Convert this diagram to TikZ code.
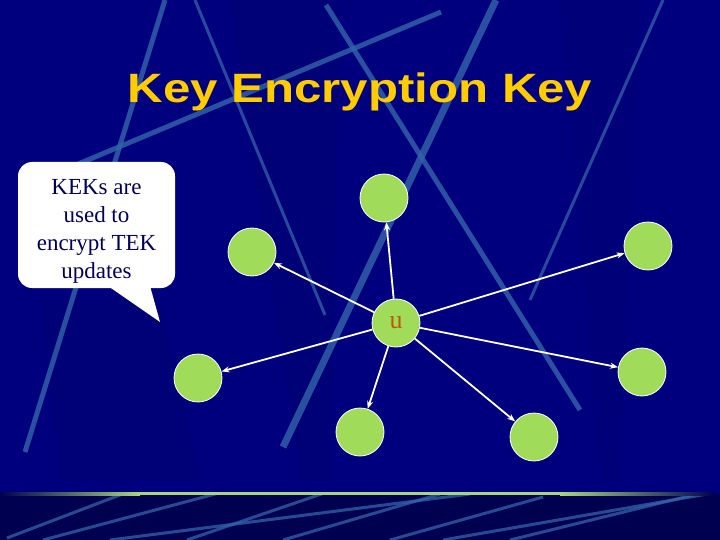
\documentclass[tikz,border=0pt]{standalone}
\usepackage{fontspec}
\setmainfont{Liberation Serif}
\newfontfamily\titlefont{Liberation Sans}
\usetikzlibrary{arrows.meta}

\definecolor{slidebg}{RGB}{0,0,126}
\definecolor{slidedark}{RGB}{0,0,80}
\definecolor{streak}{RGB}{52,100,170}
\definecolor{keygreen}{RGB}{160,220,90}
\definecolor{titlegold}{RGB}{255,204,0}
\definecolor{notetext}{RGB}{0,0,90}
\definecolor{ulabel}{RGB}{190,90,0}
\definecolor{rulegreen}{RGB}{165,215,125}

\begin{document}
\begin{tikzpicture}[
        x=1pt, y=-1pt,
        keynode/.style={circle, fill=keygreen, draw=white, line width=0.8pt,
                        minimum size=48pt, inner sep=0pt},
        keyarrow/.style={-{Stealth[length=8pt, width=6pt]}, white, line width=1.8pt},
        streakline/.style={streak, line width=5pt, opacity=0.8},
        thinstreak/.style={streak, line width=3pt, opacity=0.75}
    ]
        % --- Fondo de la diapositiva ---
        \useasboundingbox (0,0) rectangle (720,540);
        \fill[slidebg] (0,0) rectangle (720,494);
        \fill[slidedark] (0,494) rectangle (720,540);
        % Facetas oscuras
        \fill[slidedark, opacity=0.15] (230,0) -- (340,0) -- (330,480) -- (300,480) -- cycle;
        \fill[slidedark, opacity=0.15] (40,300) -- (160,300) -- (200,480) -- (60,480) -- cycle;
        \fill[slidedark, opacity=0.12] (560,0) -- (640,0) -- (620,480) -- (600,480) -- cycle;

        % Trazos diagonales de arriba
        \draw[streakline] (165,0) -- (25,452);
        \draw[thinstreak] (195,0) -- (325,315);
        \draw[streakline] (441,12) -- (40,180);
        \draw[streakline] (326,5) -- (580,410);
        \draw[streakline, line width=7pt] (496,0) -- (283,447);
        \draw[thinstreak] (663,0) -- (530,300);

        % Trazos diagonales de abajo
        \begin{scope}
            \clip (0,494) rectangle (720,540);
            \draw[thinstreak] (7,538) -- (133,490);
            \draw[thinstreak] (43,540) -- (230,490);
            \draw[thinstreak] (110,540) -- (470,494);
            \draw[thinstreak] (187,540) -- (333,490);
            \draw[thinstreak] (283,540) -- (440,494);
            \draw[thinstreak] (390,540) -- (543,497);
            \draw[thinstreak] (443,540) -- (713,493);
            \draw[thinstreak] (510,540) -- (693,495);
        \end{scope}

        % Linea horizontal verde
        \shade[left color=slidedark, right color=rulegreen] (0,492) rectangle (140,495);
        \fill[rulegreen] (140,492) rectangle (560,495);
        \shade[left color=rulegreen, right color=slidedark] (560,492) rectangle (715,495);

        % --- Titulo ---
        \node[titlegold, font=\titlefont\bfseries\fontsize{41}{41}\selectfont,
              xscale=1.2, anchor=base] (title) at (360,103) {Key Encryption Key};

        % --- Globo de texto ---
        \fill[white, rounded corners=14pt] (18,162) rectangle (175,288);
        \fill[white] (108,286) -- (160,322) -- (150,286) -- cycle;
        \node[text=notetext, align=center, font=\fontsize{23}{28}\selectfont]
            (note) at (96.5,231) {KEKs are\\used to\\encrypt TEK\\updates};

        % --- Nodos ---
        \node[keynode, text=ulabel, font=\fontsize{26}{26}\selectfont] (u) at (396,323) {u};
        \node[keynode] (k1) at (384,198) {};
        \node[keynode] (k2) at (252,252) {};
        \node[keynode] (k3) at (198,378) {};
        \node[keynode] (k4) at (360,432) {};
        \node[keynode] (k5) at (534,437) {};
        \node[keynode] (k6) at (642,372) {};
        \node[keynode] (k7) at (648,246) {};

        % Flechas desde u
        \draw[keyarrow] (u) -- (k1);
        \draw[keyarrow] (u) -- (k2);
        \draw[keyarrow] (u) -- (k3);
        \draw[keyarrow] (u) -- (k4);
        \draw[keyarrow] (u) -- (k5);
        \draw[keyarrow] (u) -- (k6);
        \draw[keyarrow] (u) -- (k7);

    \end{tikzpicture}
\end{document}
